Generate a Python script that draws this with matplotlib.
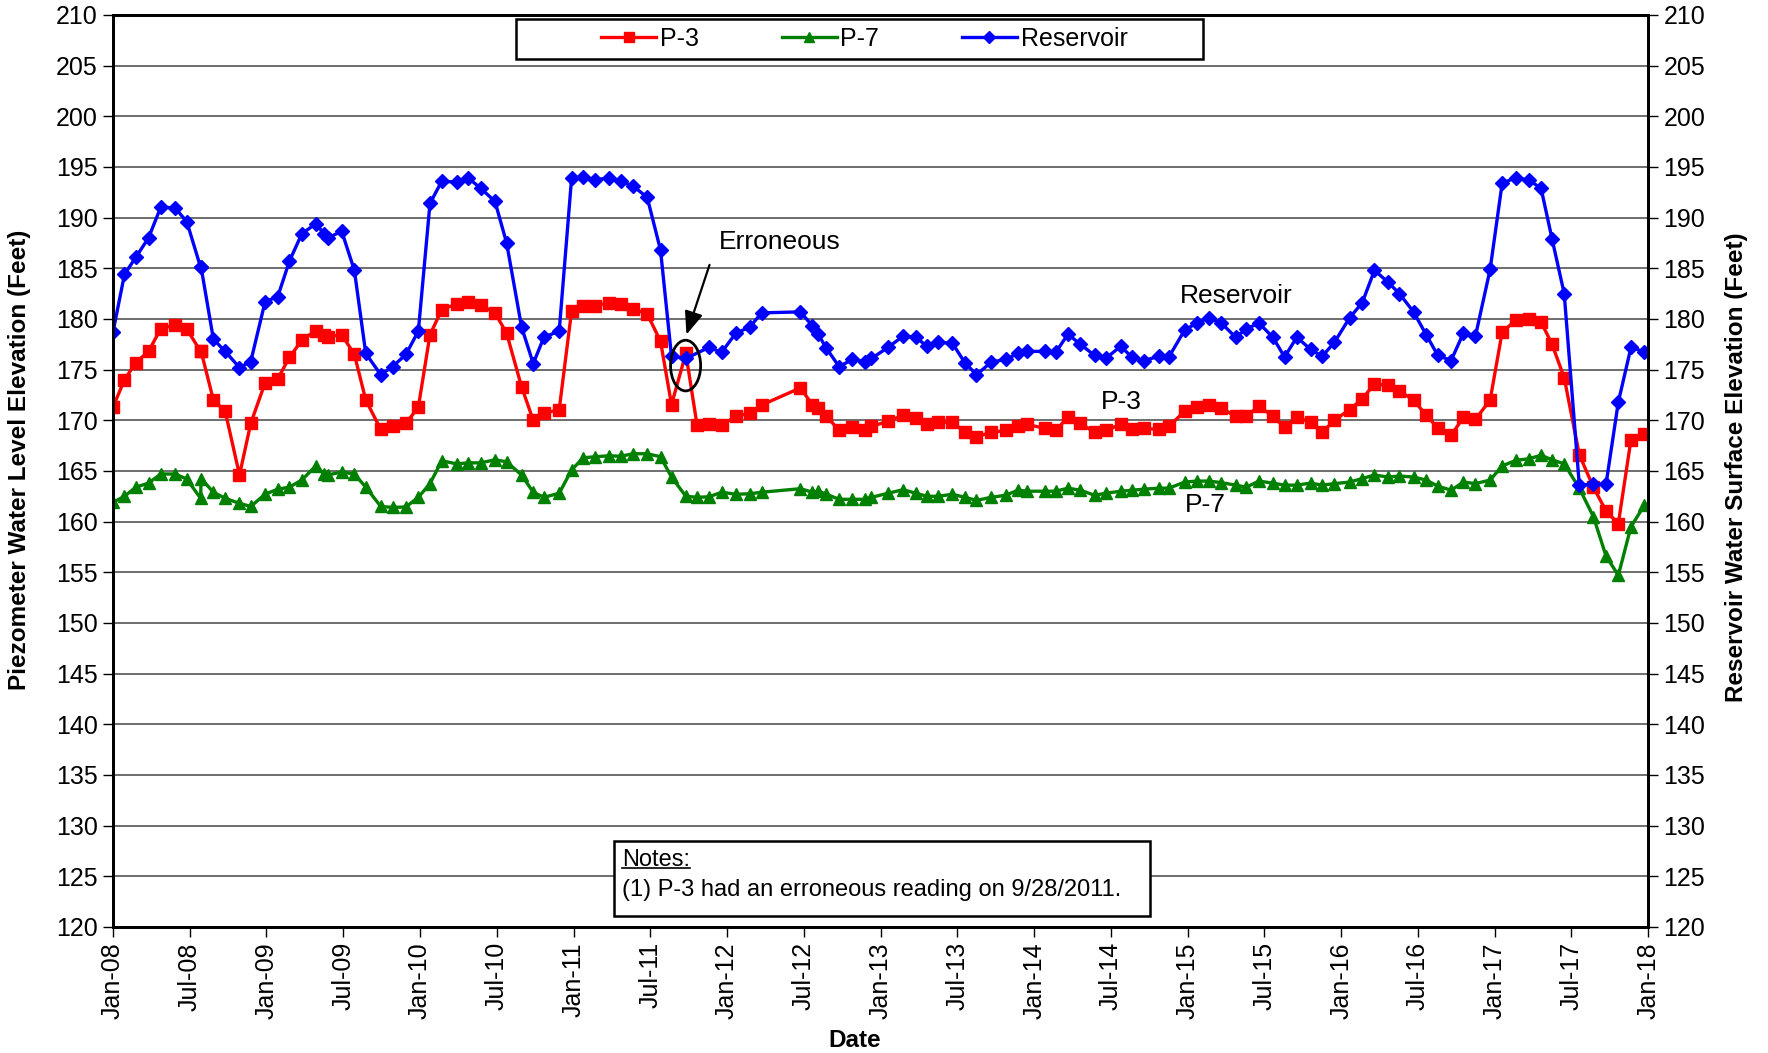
import numpy as np
import matplotlib.pyplot as plt
from matplotlib.patches import Ellipse, Rectangle
from matplotlib.lines import Line2D

plt.rcParams['font.family'] = ['Liberation Sans', 'DejaVu Sans']

# --- data (months since Jan-2008) ---
months = [0.0, 0.9, 1.79, 2.78, 3.74, 4.86, 5.77, 6.85, 6.89, 7.85,
          8.77, 9.89, 10.77, 11.89, 12.88, 13.79, 14.76, 15.85, 16.5, 16.79,
          17.88, 18.87, 19.76, 20.93, 21.86, 22.9, 23.87, 24.78, 25.7, 26.87,
          27.78, 28.74, 29.86, 30.77, 31.94, 32.85, 33.69, 34.88, 35.85, 36.76,
          37.67, 38.79, 39.68, 40.67, 41.76, 42.8, 43.66, 44.78, 45.66, 46.6,
          47.57, 48.69, 49.78, 50.7, 53.74, 54.68, 55.12, 55.77, 56.76, 57.8,
          58.77, 59.29, 60.59, 61.76, 62.75, 63.63, 64.5, 65.62, 66.58, 67.5,
          68.66, 69.78, 70.74, 71.45, 72.83, 73.69, 74.65, 75.62, 76.73, 77.6,
          78.77, 79.68, 80.56, 81.76, 82.54, 83.77, 84.73, 85.67, 86.63, 87.75,
          88.59, 89.57, 90.66, 91.58, 92.54, 93.61, 94.52, 95.48, 96.66, 97.65,
          98.61, 99.65, 100.56, 101.66, 102.65, 103.56, 104.6, 105.56, 106.5, 107.65,
          108.59, 109.68, 110.67, 111.63, 112.49, 113.44, 114.62, 115.72, 116.71, 117.67,
          118.66, 119.7]

reservoir = [178.7, 184.4, 186.1, 188.0, 191.05, 190.95, 189.6, 185.1, 185.1, 178.0,
             176.8, 175.2, 175.8, 181.7, 182.2, 185.7, 188.4, 189.4, 188.4, 188.0,
             188.65, 184.8, 176.6, 174.5, 175.3, 176.5, 178.8, 191.4, 193.6, 193.5,
             193.9, 192.9, 191.6, 187.5, 179.2, 175.6, 178.2, 178.8, 193.9, 194.0,
             193.75, 193.9, 193.6, 193.1, 192.0, 186.8, 176.3, 176.1, np.nan, 177.2,
             176.7, 178.6, 179.2, 180.6, 180.7, 179.3, 178.5, 177.1, 175.3, 176.0,
             175.8, 176.1, 177.2, 178.3, 178.2, 177.3, 177.7, 177.6, 175.7, 174.5,
             175.75, 176.0, 176.6, 176.8, 176.8, 176.7, 178.5, 177.5, 176.4, 176.1,
             177.3, 176.2, 175.9, 176.3, 176.25, 178.9, 179.6, 180.1, 179.6, 178.2,
             179.0, 179.6, 178.2, 176.25, 178.2, 177.0, 176.3, 177.7, 180.1, 181.6,
             184.8, 183.65, 182.5, 180.7, 178.45, 176.4, 175.9, 178.6, 178.3, 184.9,
             193.4, 193.95, 193.7, 192.9, 187.9, 182.5, 163.6, 163.7, 163.7, 171.8,
             177.2, 176.75]

p3 = [171.3, 174.0, 175.7, 176.8, 179.05, 179.4, 179.0, 176.8, 176.8, 172.0,
      170.9, 164.6, 169.7, 173.7, 174.1, 176.2, 177.9, 178.85, 178.45, 178.25,
      178.45, 176.5, 172.0, 169.1, 169.4, 169.7, 171.3, 178.45, 180.9, 181.5,
      181.7, 181.35, 180.6, 178.6, 173.3, 170.0, 170.7, 171.05, 180.8, 181.25,
      181.3, 181.6, 181.5, 181.0, 180.5, 177.8, 171.55, 176.6, 169.5, 169.6,
      169.5, 170.4, 170.7, 171.5, 173.2, 171.5, 171.2, 170.4, 169.0, 169.3,
      169.0, 169.4, 169.9, 170.5, 170.2, 169.6, 169.8, 169.8, 168.85, 168.4,
      168.8, 169.0, 169.4, 169.6, 169.2, 169.0, 170.3, 169.7, 168.8, 169.0,
      169.6, 169.1, 169.2, 169.1, 169.4, 170.9, 171.3, 171.5, 171.2, 170.4,
      170.4, 171.4, 170.4, 169.3, 170.3, 169.8, 168.8, 170.0, 171.05, 172.1,
      173.6, 173.45, 172.9, 172.0, 170.5, 169.25, 168.5, 170.3, 170.1, 172.0,
      178.7, 179.9, 180.0, 179.7, 177.5, 174.2, 166.6, 163.4, 161.05, 159.8,
      168.1, 168.6]

p7 = [161.9, 162.5, 163.4, 163.8, 164.7, 164.7, 164.2, 162.3, 164.25, 162.9,
      162.3, 161.8, 161.5, 162.7, 163.2, 163.4, 164.1, 165.5, 164.7, 164.6,
      164.9, 164.7, 163.4, 161.5, 161.4, 161.45, 162.4, 163.75, 166.0, 165.7,
      165.8, 165.8, 166.1, 165.9, 164.6, 162.9, 162.4, 162.8, 165.1, 166.3,
      166.4, 166.5, 166.45, 166.7, 166.7, 166.4, 164.4, 162.5, 162.4, 162.45,
      162.9, 162.7, 162.75, 162.9, 163.25, 162.9, 163.0, 162.7, 162.2, 162.2,
      162.2, 162.4, 162.8, 163.15, 162.8, 162.5, 162.5, 162.7, 162.4, 162.1,
      162.4, 162.6, 163.1, 163.0, 163.0, 163.0, 163.3, 163.1, 162.6, 162.8,
      163.0, 163.1, 163.2, 163.3, 163.3, 163.9, 164.0, 164.0, 163.85, 163.6,
      163.4, 164.0, 163.8, 163.6, 163.6, 163.8, 163.6, 163.75, 163.9, 164.25,
      164.6, 164.4, 164.5, 164.4, 164.1, 163.5, 163.1, 163.9, 163.75, 164.1,
      165.5, 166.05, 166.2, 166.55, 166.1, 165.7, 163.3, 160.5, 156.6, 154.7,
      159.5, 161.6]

tick_labels = ['Jan-08', 'Jul-08', 'Jan-09', 'Jul-09', 'Jan-10', 'Jul-10', 'Jan-11',
               'Jul-11', 'Jan-12', 'Jul-12', 'Jan-13', 'Jul-13', 'Jan-14', 'Jul-14',
               'Jan-15', 'Jul-15', 'Jan-16', 'Jul-16', 'Jan-17', 'Jul-17', 'Jan-18']

months = np.array(months)
reservoir = np.array(reservoir)
ok = ~np.isnan(reservoir)

fig = plt.figure(figsize=(17.68, 10.53), dpi=100)
ax = fig.add_axes([0.0639, 0.1197, 0.8683, 0.8661])

ax.plot(months, p3, color='#FF0000', lw=2.4, marker='s', ms=8.5, label='P-3', zorder=3)
ax.plot(months, p7, color='#008000', lw=2.4, marker='^', ms=8.5, label='P-7', zorder=3)
ax.plot(months[ok], reservoir[ok], color='#0000FF', lw=2.4, marker='D', ms=7,
        label='Reservoir', zorder=4)

ax.set_xlim(0, 120)
ax.set_ylim(120, 210)
ax.set_xticks(np.arange(0, 121, 6))
ax.set_xticklabels(tick_labels, rotation=90, fontsize=18)
ax.set_yticks(np.arange(120, 211, 5))
ax.tick_params(axis='y', labelsize=18, direction='out', length=7, width=1, pad=4)
ax.tick_params(axis='x', direction='out', length=7, width=1, pad=4)
ax.grid(axis='y', color='#555555', lw=1.2)
ax.set_axisbelow(True)
for s in ax.spines.values():
    s.set_linewidth(2)

ax2 = ax.twinx()
ax2.set_ylim(120, 210)
ax2.set_yticks(np.arange(120, 211, 5))
ax2.tick_params(axis='y', labelsize=18, direction='out', length=7, width=1, pad=4)
for s in ax2.spines.values():
    s.set_linewidth(2)

fig.text(0.4836, 0.0123, 'Date', fontsize=17.5, fontweight='bold', ha='center', va='center')
fig.text(0.0113, 0.563, 'Piezometer Water Level Elevation (Feet)', fontsize=17.5,
         fontweight='bold', rotation=90, ha='center', va='center')
fig.text(0.982, 0.5565, 'Reservoir Water Surface Elevation (Feet)', fontsize=17.5,
         fontweight='bold', rotation=90, ha='center', va='center')

# legend: fixed box, entries centred inside
ax2.add_patch(Rectangle((0.2625, 0.9518), 0.4476, 0.0438, transform=ax2.transAxes,
                        facecolor='white', edgecolor='black', lw=1.8, zorder=5))
leg = ax2.legend(*ax.get_legend_handles_labels(), loc='center', ncol=3,
                 bbox_to_anchor=(0.4895, 0.9737), fontsize=18, frameon=False,
                 handlelength=2.2, handletextpad=0.15, columnspacing=3.3,
                 borderaxespad=0, markerscale=0.9)
leg.set_zorder(6)

# annotations
ax.add_patch(Ellipse((44.76, 175.4), 2.35, 5.0, fill=False, color='black', lw=2, zorder=5))
ax.annotate('', xy=(44.76, 178.2), xytext=(46.7, 185.6),
            arrowprops=dict(arrowstyle='-|>,head_length=0.5,head_width=0.2', color='black',
                            lw=1.6, mutation_scale=28))
ax.text(47.4, 187.6, 'Erroneous', fontsize=19, va='center', ha='left')
ax.text(87.8, 182.3, 'Reservoir', fontsize=19, va='center', ha='center')
ax.text(78.8, 171.8, 'P-3', fontsize=19, va='center', ha='center')
ax.text(85.4, 161.6, 'P-7', fontsize=19, va='center', ha='center')

# notes box
fig.patches.append(Rectangle((0.3473, 0.1301), 0.3032, 0.0712, transform=fig.transFigure,
                             facecolor='white', edgecolor='black', lw=1.8, zorder=6))
t1 = fig.text(0.3518, 0.1775, 'Notes:', fontsize=17, va='baseline', zorder=7)
fig.text(0.3518, 0.1488, '(1) P-3 had an erroneous reading on 9/28/2011.', fontsize=17,
         va='baseline', zorder=7)
fig.canvas.draw()
bb = t1.get_window_extent().transformed(fig.transFigure.inverted())
fig.lines.append(Line2D([bb.x0, bb.x1], [0.1758, 0.1758], transform=fig.transFigure,
                        color='black', lw=1.2, zorder=7))

fig.savefig('out.png', dpi=100)
